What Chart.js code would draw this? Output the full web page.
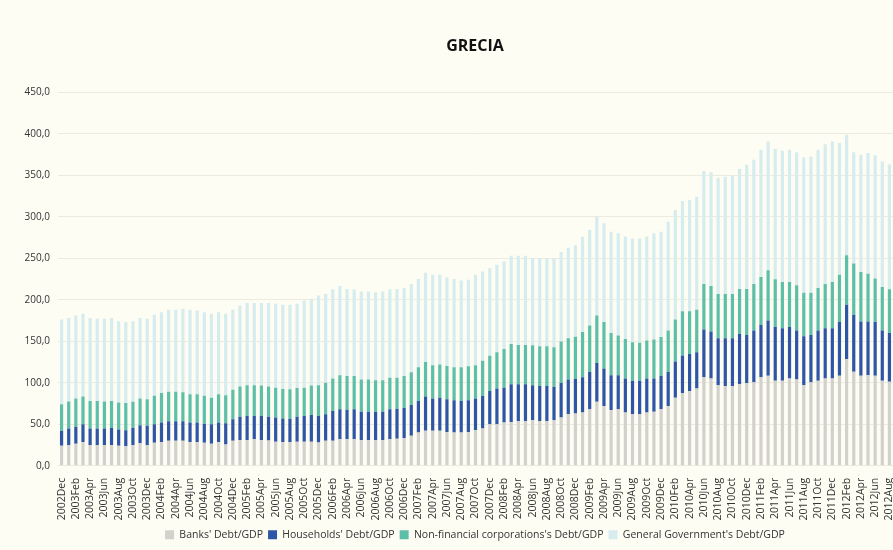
<!DOCTYPE html>
<html>
<head>
<meta charset="utf-8">
<script src="https://cdn.jsdelivr.net/npm/chart.js@4"></script>
<style>
  html, body { margin: 0; padding: 0; background: #fefdf4; overflow: hidden; }
  #wrap { width: 950px; height: 550px; }
</style>
</head>
<body>
<div id="wrap"><canvas id="chartGR" width="950" height="550"></canvas></div>
<script>
// months from 2002Dec to 2012Aug
const months = [];
const monthNames = ['Jan','Feb','Mar','Apr','May','Jun','Jul','Aug','Sep','Oct','Nov','Dec'];
months.push('2002Dec');
for (let y = 2003; y <= 2012; y++) {
  for (let m = 0; m < 12; m++) {
    if (y === 2012 && m > 7) break;
    months.push(y + monthNames[m]);
  }
}

const banks = [
  24, 24.6, 26.6, 28.7, 24.6, 24.6, 25, 25, 24, 23.5, 25, 27, 25, 27.8, 28.7, 30, 30, 30, 28.7, 28.7,
  27.8, 26.6, 28.7, 25.5, 30, 31, 31, 32, 31, 30.5, 29, 28.5, 28.5, 29, 29, 29, 28, 30, 30, 31.8,
  31.8, 31.8, 30.6, 30.6, 30.6, 30.6, 31.8, 32.5, 33, 36, 40, 42, 42, 42, 40.7, 40, 40, 40.7, 43, 44.8,
  50, 50, 52, 52.8, 54, 54, 54.8, 54, 54, 54.8, 58, 62, 63, 64, 68, 77, 72, 67, 68, 64,
  62, 62, 64, 65, 68, 72, 82, 87.5, 90, 93, 106.5, 105, 97, 96, 96, 98, 99.6, 100.4, 106.5, 108.5,
  102.4, 102.4, 105, 104, 97, 100.4, 102.4, 105, 105, 108.5, 128.6, 113.3, 108.5, 109, 108.5, 102.4, 101
];
const households = [
  18, 20.2, 20.4, 21.3, 20.2, 20.2, 19.8, 20.5, 19.5, 19.3, 20.5, 21.8, 23, 22.2, 23.3, 23.6, 23.6, 23.6, 23.3, 23.3,
  22.7, 23.4, 23.3, 25.5, 26, 28, 29, 28, 29, 28.5, 29, 28.5, 28, 30, 31, 32, 32, 32, 36, 36.2,
  35.7, 36.2, 34.4, 34.4, 34.4, 34.4, 36.2, 36, 36.5, 37, 38, 41.5, 39, 40, 39.3, 39, 38, 38.3, 38, 39.2,
  40, 43, 42, 45.2, 44, 44, 42.2, 42, 42, 40.2, 41.6, 42, 41.5, 42.5, 45, 46.7, 45, 42, 41, 41,
  40.4, 40.4, 41, 40, 40.5, 41, 43.4, 45.2, 44.6, 43.7, 57.5, 56.7, 56.6, 57.6, 57.6, 60.8, 58, 62.6, 63.2, 66.5,
  64.6, 63.3, 62, 59, 59, 57.2, 60.6, 60.7, 60.7, 64.5, 65.4, 68.5, 65.3, 64.8, 64.5, 60.6, 59
];
const nonFinancial = [
  32, 32.6, 34, 33.5, 33.2, 33.2, 32.6, 32.5, 32.5, 32.6, 31.5, 32.2, 32, 34.3, 35.5, 35.4, 35.4, 34.9, 34, 34,
  33.8, 32, 34, 34, 35.5, 36.5, 37, 37, 36.7, 36.5, 36, 35.5, 35.5, 34.5, 34, 35.7, 37, 38, 39, 41,
  40.5, 40, 39, 39, 38, 38, 38, 37.5, 38.5, 39.5, 40.5, 41.5, 40, 40, 40, 39.5, 40.5, 40.7, 40, 42.6,
  42.6, 43.7, 46.7, 48.7, 47.5, 47.5, 48, 48, 48, 47.7, 50, 49.6, 51, 54.5, 56, 57.3, 56, 51, 48, 47.8,
  46.4, 45.6, 45.8, 47, 46.5, 50, 50.6, 53.3, 51.4, 51.3, 55, 54.8, 53.4, 53.4, 53.4, 54.2, 55.4, 56, 57.7, 60.5,
  57.6, 55.7, 54.4, 54.4, 52.4, 50.8, 51, 53.3, 55.7, 57, 59.7, 61.7, 59.7, 57.6, 52.4, 52.3, 52.5
];
const government = [
  102, 100.6, 100, 99.5, 100, 99, 99.6, 100, 98, 97.6, 97, 97, 97, 97.7, 97.5, 99, 99, 100.5, 102, 101,
  100.7, 101, 99, 98, 96.5, 97.5, 99, 99, 99.3, 100.5, 101, 101.5, 102, 101.5, 105, 104.3, 108, 107, 107.5, 107.5,
  105, 104.5, 106, 106, 106, 107, 106.5, 107, 106, 106.5, 106.5, 107.6, 109, 108, 107, 106.5, 104.5, 104.3, 109, 107.4,
  105.4, 105.3, 105.3, 106.3, 107.5, 107.5, 105, 106, 106, 107.3, 108, 108.9, 110.2, 114.8, 115, 119, 119, 122, 123, 123.2,
  125, 125.8, 125.2, 128, 127, 131, 132, 133, 134, 136, 136, 137.1, 140, 141, 143, 144.6, 149.5, 149.6, 153.2, 155.2,
  157.3, 158.1, 159.2, 160.4, 163, 164.2, 166.6, 168.4, 169.3, 158.7, 145.1, 134.3, 141.1, 145.2, 148.6, 151.2, 150.8
];
const yTicks = [0, 50, 100, 150, 200, 250, 300, 350, 400, 450];

const textFont = "'Open Sans', 'DejaVu Sans', sans-serif";

new Chart(document.getElementById('chartGR'), {
  type: 'bar',
  data: {
    labels: months,
    datasets: [
      { label: "Banks' Debt/GDP", data: banks, backgroundColor: '#d3d1cc' },
      { label: "Households' Debt/GDP", data: households, backgroundColor: '#2f56a6' },
      { label: "Non-financial corporations's Debt/GDP", data: nonFinancial, backgroundColor: '#5ebfa8' },
      { label: "General Government's Debt/GDP", data: government, backgroundColor: '#d7ecee' }
    ]
  },
  options: {
    responsive: false,
    animation: false,
    datasets: { bar: { barPercentage: 0.5, categoryPercentage: 0.9 } },
    layout: { padding: { top: 37, bottom: 0 } },
    scales: {
      x: {
        stacked: true,
        grid: { display: false },
        border: { display: false },
        ticks: {
          autoSkip: false,
          minRotation: 90,
          maxRotation: 90,
          padding: 4,
          color: '#333',
          font: { family: textFont, size: 10.5 },
          callback: function (value, index) {
            return index % 2 === 0 ? this.getLabelForValue(value) : '';
          }
        }
      },
      y: {
        stacked: true,
        min: 0,
        max: 450,
        afterFit: function (scale) { scale.width = 58; },
        afterBuildTicks: function (scale) { scale.ticks = yTicks.map(v => ({ value: v })); },
        grid: { color: '#ecebdf', drawTicks: false },
        border: { display: false },
        ticks: {
          padding: 8,
          color: '#333',
          font: { family: textFont, size: 10 },
          callback: v => v.toFixed(1).replace('.', ',')
        }
      },
      yRight: {
        position: 'right',
        grid: { display: false },
        border: { display: false },
        ticks: { display: false },
        afterFit: function (scale) { scale.width = 57; }
      }
    },
    plugins: {
      title: {
        display: true,
        text: 'GRECIA',
        color: '#111',
        font: { family: textFont, size: 16, weight: 'bold' },
        padding: { top: 0, bottom: 36 }
      },
      legend: {
        position: 'bottom',
        labels: {
          boxWidth: 9,
          boxHeight: 9,
          padding: 5,
          color: '#333',
          font: { family: textFont, size: 10.5 }
        }
      },
      tooltip: { enabled: false }
    }
  }
});
</script>
</body>
</html>
